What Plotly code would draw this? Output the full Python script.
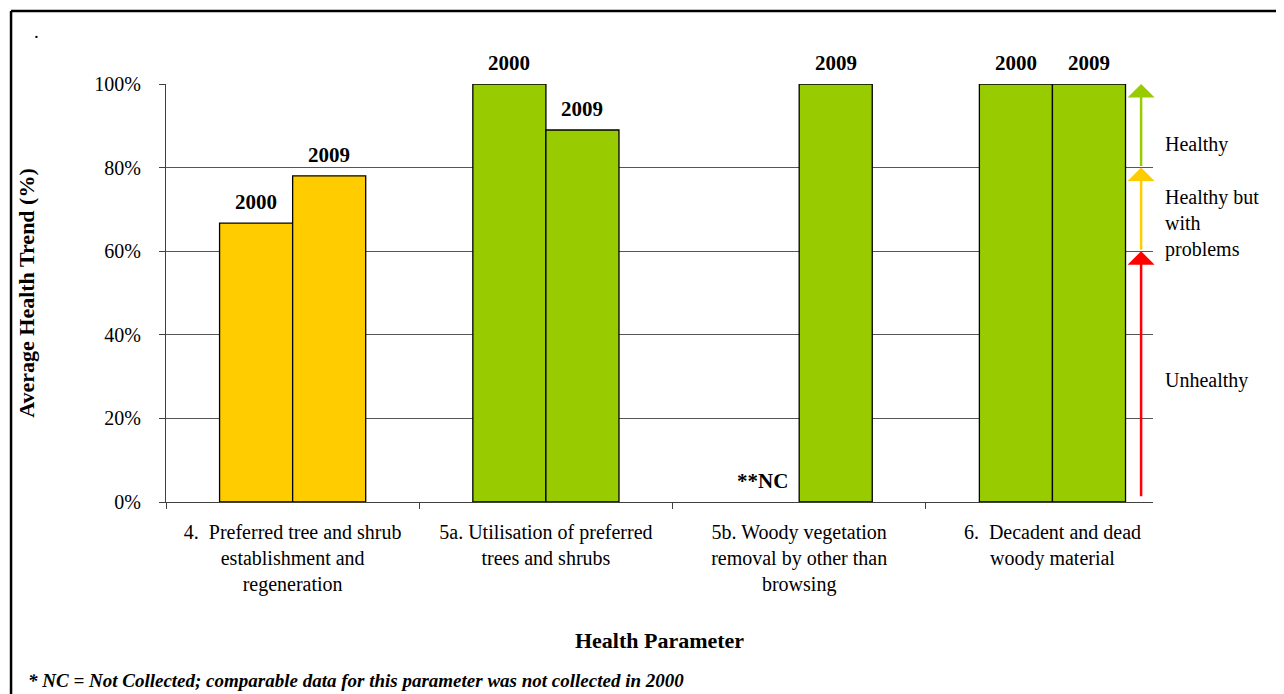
import plotly.graph_objects as go

categories = [
    "4.  Preferred tree and shrub<br>establishment and<br>regeneration",
    "5a. Utilisation of preferred<br>trees and shrubs",
    "5b. Woody vegetation<br>removal by other than<br>browsing",
    "6.  Decadent and dead<br>woody material",
]
values_2000 = [66.7, 100, None, 100]
values_2009 = [78, 89, 100, 100]
labels_2000 = ["2000", "2000", "**NC", "2000"]
labels_2009 = ["2009", "2009", "2009", "2009"]
bar_colors = ["#FFCC00", "#99CC00", "#99CC00", "#99CC00"]
y_ticks = [0, 20, 40, 60, 80, 100]
y_tick_text = ["0%", "20%", "40%", "60%", "80%", "100%"]
zones = [(1, 60, "#FF0000"), (60, 80, "#FFCC00"), (80, 100, "#99CC00")]
zone_labels = [("Healthy", 85.5), ("Healthy but<br>with<br>problems", 66.7), ("Unhealthy", 29)]

FONT = "Liberation Serif"
fig = go.Figure()
fig.add_trace(go.Bar(x=categories, y=values_2000, name="2000",
                     marker=dict(color=bar_colors, line=dict(color="black", width=1.3))))
fig.add_trace(go.Bar(x=categories, y=values_2009, name="2009",
                     marker=dict(color=bar_colors, line=dict(color="black", width=1.3))))

annotations = []
half = 36.5
for i, c in enumerate(categories):
    for val, lab, shift in ((values_2000[i], labels_2000[i], -half), (values_2009[i], labels_2009[i], half)):
        annotations.append(dict(x=c, y=val if val is not None else 0, text=f"<b>{lab}</b>",
                                xref="x", yref="y", xshift=shift, yshift=7, yanchor="bottom",
                                showarrow=False, font=dict(family=FONT, size=21, color="black")))

arrow_x = 3.35
for y0, y1, col in zones:
    annotations.append(dict(x=arrow_x, y=y1, ax=arrow_x, ay=y0, xref="x", yref="y",
                            axref="x", ayref="y", text="", showarrow=True,
                            arrowhead=1, arrowsize=1.8, arrowwidth=2.5, arrowcolor=col, standoff=0))
for txt, yv in zone_labels:
    annotations.append(dict(x=1.01, xref="paper", y=yv, yref="y", text=txt, align="left",
                            xanchor="left", yanchor="middle", showarrow=False,
                            font=dict(family=FONT, size=20, color="black")))

annotations.append(dict(x=-0.136, y=1.155, xref="paper", yref="paper", text=".", showarrow=False,
                        font=dict(family=FONT, size=19, color="black")))
annotations.append(dict(x=-0.142, y=-0.428, xref="paper", yref="paper", xanchor="left", yanchor="middle",
                        text="<b><i>* NC = Not Collected; comparable data for this parameter was not collected in 2000</i></b>",
                        showarrow=False, font=dict(family=FONT, size=19, color="black")))

border = dict(color="black", width=2.5)
fig.update_layout(
    width=1276, height=686,
    margin=dict(l=158, r=131, t=76, b=192),
    paper_bgcolor="white", plot_bgcolor="white",
    barmode="group", bargap=0.423, bargroupgap=0,
    showlegend=False,
    font=dict(family=FONT, size=20, color="black"),
    annotations=annotations,
    shapes=[
        dict(type="line", xref="paper", yref="paper", x0=-0.157, x1=1.2, y0=1.1746, y1=1.1746,
             line=border, layer="above"),
        dict(type="line", xref="paper", yref="paper", x0=-0.157, x1=-0.157, y0=-0.5, y1=1.1746,
             line=border, layer="above"),
    ],
)
fig.update_xaxes(range=[-0.5, 3.397], tickson="boundaries", ticks="outside", ticklen=6,
                 tickcolor="#404040", showline=True, linecolor="#404040", linewidth=1.3,
                 showgrid=False, tickfont=dict(family=FONT, size=20), ticklabelstandoff=12,
                 title=dict(text="<b>Health Parameter</b>", font=dict(family=FONT, size=22), standoff=37))
fig.update_yaxes(range=[0, 100], tickvals=y_ticks, ticktext=y_tick_text, ticks="outside", ticklen=6,
                 tickcolor="#404040", showline=True, linecolor="#404040", linewidth=1.3,
                 showgrid=True, gridcolor="#555555", gridwidth=1, zeroline=False,
                 tickfont=dict(family=FONT, size=20), ticklabelstandoff=14,
                 title=dict(text="<b>Average Health Trend (%)</b>", font=dict(family=FONT, size=22), standoff=53))

fig.write_html("out.html")
